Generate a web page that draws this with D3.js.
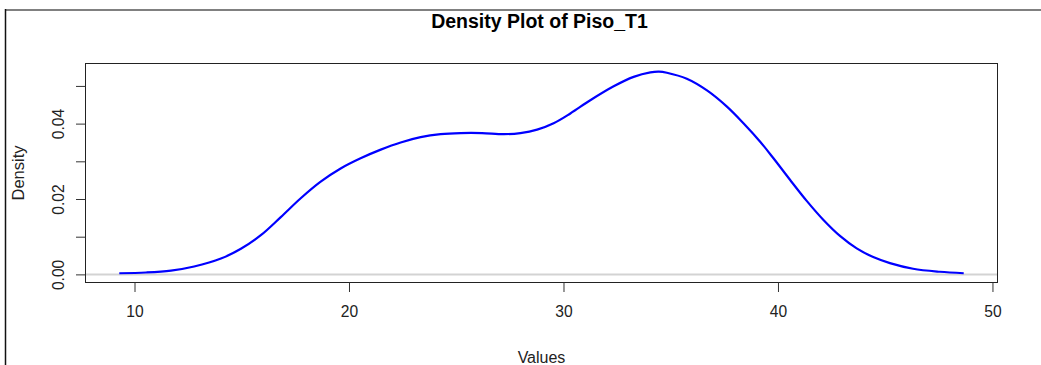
<!DOCTYPE html>
<html>
<head>
<meta charset="utf-8">
<script src="https://cdn.jsdelivr.net/npm/d3@7"></script>
<style>
  html, body { margin: 0; padding: 0; background: #fff; }
  svg { display: block; font-family: "Liberation Sans", Arial, sans-serif; }
</style>
</head>
<body>
<svg id="chart" width="1041" height="365"></svg>
<script>
// Kernel density estimate of Piso_T1, sampled along the value axis
const xValues = [9.29, 10.54, 11.70, 12.78, 14.03, 14.96, 15.89, 16.82, 17.75, 18.68,
  19.61, 20.54, 21.48, 22.41, 23.34, 24.27, 25.20, 26.20, 27.22, 27.99,
  28.77, 29.54, 30.32, 31.25, 32.34, 33.27, 34.05, 34.45, 34.82, 35.75,
  36.69, 37.62, 38.39, 39.17, 39.79, 40.56, 41.34, 42.11, 42.89, 43.67,
  44.44, 45.22, 46.30, 47.54, 48.66];
const densityValues = [0.0003, 0.0005, 0.0010, 0.0021, 0.0042, 0.0068, 0.0104, 0.0152, 0.0202, 0.0246,
  0.0281, 0.0308, 0.0331, 0.0350, 0.0364, 0.0372, 0.0375, 0.0375, 0.0372, 0.0375,
  0.0384, 0.0401, 0.0427, 0.0462, 0.0499, 0.0524, 0.0536, 0.0538, 0.0535, 0.0519,
  0.0488, 0.0445, 0.0401, 0.0352, 0.0308, 0.0251, 0.0195, 0.0145, 0.0102, 0.0069,
  0.0046, 0.0030, 0.0015, 0.0007, 0.0003];

const xTicks = [10, 20, 30, 40, 50];
const xTickLabels = ["10", "20", "30", "40", "50"];
const yTicks = [0, 0.01, 0.02, 0.03, 0.04, 0.05];
const yTickLabels = ["0.00", "", "0.02", "", "0.04", ""];

const titleText = "Density Plot of Piso_T1";
const xAxisTitle = "Values";
const yAxisTitle = "Density";

const svg = d3.select("#chart");
const plot = { left: 85.5, right: 997.5, top: 63.5, bottom: 282.5 };

// Axis ranges padded by 4% on each side of the data extent
const xExt = d3.extent(xValues);
const xPad = (xExt[1] - xExt[0]) * 0.04;
const yMax = d3.max(densityValues);
const yPad = yMax * 0.04;

const x = d3.scaleLinear().domain([xExt[0] - xPad, xExt[1] + xPad]).range([plot.left, plot.right]);
const y = d3.scaleLinear().domain([-yPad, yMax + yPad]).range([plot.bottom, plot.top]);

// Outer frame
svg.append("line").attr("x1", 5).attr("x2", 1041).attr("y1", 10).attr("y2", 10)
  .attr("stroke", "#808080").attr("stroke-width", 2);
svg.append("line").attr("x1", 5.5).attr("x2", 5.5).attr("y1", 9).attr("y2", 365)
  .attr("stroke", "#111").attr("stroke-width", 1.5);

// Title
svg.append("text").attr("x", (plot.left + plot.right) / 2 - 2).attr("y", 28)
  .attr("text-anchor", "middle").attr("font-weight", "bold").attr("font-size", 19.5)
  .attr("fill", "#000").text(titleText);

// Clip region for the curve
svg.append("clipPath").attr("id", "plotClip").append("rect")
  .attr("x", plot.left).attr("y", plot.top)
  .attr("width", plot.right - plot.left).attr("height", plot.bottom - plot.top);

// Zero reference line
svg.append("line")
  .attr("x1", plot.left).attr("x2", plot.right)
  .attr("y1", y(0)).attr("y2", y(0))
  .attr("stroke", "#d3d3d3").attr("stroke-width", 2);

// Density curve
const line = d3.line()
  .x((d, i) => x(xValues[i]))
  .y(d => y(d))
  .curve(d3.curveCatmullRom.alpha(0.5));

svg.append("path")
  .datum(densityValues)
  .attr("clip-path", "url(#plotClip)")
  .attr("fill", "none")
  .attr("stroke", "#0000ff")
  .attr("stroke-width", 2.2)
  .attr("stroke-linejoin", "round")
  .attr("d", line);

// Plot box
svg.append("rect")
  .attr("x", plot.left).attr("y", plot.top)
  .attr("width", plot.right - plot.left).attr("height", plot.bottom - plot.top)
  .attr("fill", "none").attr("stroke", "#222").attr("stroke-width", 1);

// X axis
const xAxis = d3.axisBottom(x).tickValues(xTicks)
  .tickFormat((d, i) => xTickLabels[i]).tickSize(9.5).tickPadding(14);
const gx = svg.append("g").attr("transform", `translate(0,${plot.bottom})`).call(xAxis);
gx.select(".domain").attr("stroke", "#222")
  .attr("d", `M${x(xTicks[0])},0H${x(xTicks[xTicks.length - 1])}`);
gx.selectAll(".tick line").attr("stroke", "#333");
gx.selectAll(".tick text").attr("font-size", 15.6).attr("fill", "#222")
  .attr("font-family", "Liberation Sans, Arial, sans-serif");

// Y axis
const yAxis = d3.axisLeft(y).tickValues(yTicks)
  .tickFormat((d, i) => yTickLabels[i]).tickSize(9.5);
const gy = svg.append("g").attr("transform", `translate(${plot.left},0)`).call(yAxis);
gy.select(".domain").attr("stroke", "#222")
  .attr("d", `M0,${y(yTicks[0])}V${y(yTicks[yTicks.length - 1])}`);
gy.selectAll(".tick line").attr("stroke", "#333");
gy.selectAll(".tick text")
  .attr("font-size", 15.6).attr("fill", "#222")
  .attr("font-family", "Liberation Sans, Arial, sans-serif")
  .attr("x", null).attr("dy", null)
  .attr("text-anchor", "middle")
  .attr("transform", "translate(-22,0) rotate(-90)");

// Axis titles
svg.append("text").attr("x", (plot.left + plot.right) / 2).attr("y", 363)
  .attr("text-anchor", "middle").attr("font-size", 16).attr("fill", "#222").text(xAxisTitle);
svg.append("text")
  .attr("transform", `translate(24,${(plot.top + plot.bottom) / 2}) rotate(-90)`)
  .attr("text-anchor", "middle").attr("font-size", 16.5).attr("fill", "#222").text(yAxisTitle);
</script>
</body>
</html>
